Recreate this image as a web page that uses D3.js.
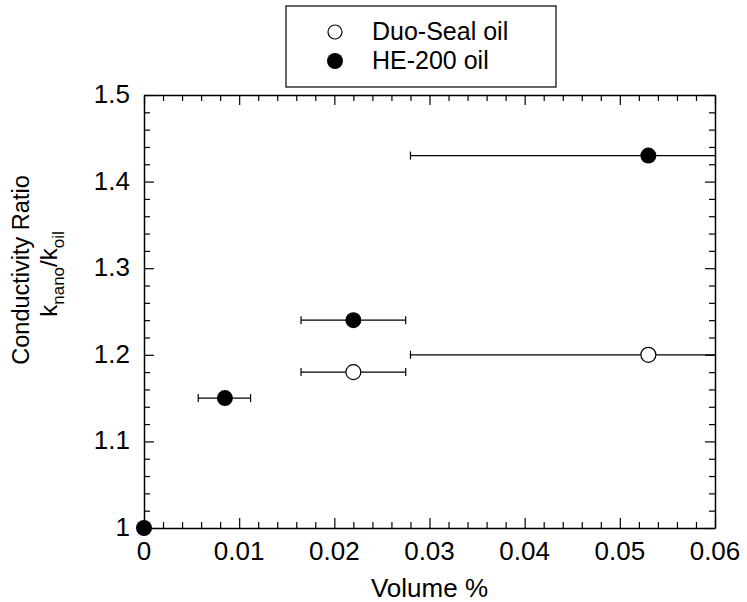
<!DOCTYPE html>
<html>
<head>
<meta charset="utf-8">
<script src="https://cdn.jsdelivr.net/npm/d3@7"></script>
<style>
  body { margin: 0; background: #fff; }
  text { font-family: "Liberation Sans", Arial, sans-serif; fill: #000; }
</style>
</head>
<body>
<svg id="svg"></svg>
<script>
const width = 747, height = 602;
const margin = { top: 95, right: 32, bottom: 74, left: 144 };

// Volume % and conductivity ratio, with x error ranges
const duoX = [0.022, 0.053];
const duoY = [1.18, 1.20];
const duoXLo = [0.0165, 0.028];
const duoXHi = [0.0275, 0.078];

const heX = [0, 0.0085, 0.022, 0.053];
const heY = [1.0, 1.15, 1.24, 1.43];
const heXLo = [null, 0.0057, 0.0165, 0.028];
const heXHi = [null, 0.0112, 0.0275, 0.078];

const xTicks = [0, 0.01, 0.02, 0.03, 0.04, 0.05, 0.06];
const yTicks = [1, 1.1, 1.2, 1.3, 1.4, 1.5];

const svg = d3.select("#svg").attr("width", width).attr("height", height);

const x = d3.scaleLinear().domain([0, 0.06]).range([margin.left, width - margin.right]);
const y = d3.scaleLinear().domain([1, 1.5]).range([height - margin.bottom, margin.top]);

const x0 = x.range()[0], x1 = x.range()[1];
const y0 = y.range()[0], y1 = y.range()[1];

// inward ticks on all four sides
const xMinor = d3.range(0, 0.0601, 0.002);
const yMinor = d3.range(1, 1.501, 0.02);
function isMajor(v, list) { return list.some(t => Math.abs(t - v) < 1e-9); }

svg.append("g").attr("transform", `translate(0,${y0})`)
  .call(d3.axisBottom(x).tickValues(xMinor).tickSizeInner(-6).tickSizeOuter(0).tickFormat(""))
  .call(g => g.selectAll(".tick line").attr("y2", d => isMajor(d, xTicks) ? -10 : -6));
svg.append("g").attr("transform", `translate(0,${y1})`)
  .call(d3.axisTop(x).tickValues(xMinor).tickSizeInner(-6).tickSizeOuter(0).tickFormat(""))
  .call(g => g.selectAll(".tick line").attr("y2", d => isMajor(d, xTicks) ? 10 : 6));
svg.append("g").attr("transform", `translate(${x0},0)`)
  .call(d3.axisLeft(y).tickValues(yMinor).tickSizeInner(-6).tickSizeOuter(0).tickFormat(""))
  .call(g => g.selectAll(".tick line").attr("x2", d => isMajor(d, yTicks) ? 10 : 6));
svg.append("g").attr("transform", `translate(${x1},0)`)
  .call(d3.axisRight(y).tickValues(yMinor).tickSizeInner(-6).tickSizeOuter(0).tickFormat(""))
  .call(g => g.selectAll(".tick line").attr("x2", d => isMajor(d, yTicks) ? -10 : -6));

svg.selectAll(".domain").attr("stroke", "#000").attr("stroke-width", 1.5);
svg.selectAll(".tick line").attr("stroke", "#000").attr("stroke-width", 1.2);

// tick labels
svg.append("g").selectAll("text").data(xTicks).join("text")
  .attr("x", d => x(d)).attr("y", y0 + 32)
  .attr("text-anchor", "middle").attr("font-size", 26)
  .text(d => d === 0 ? "0" : d3.format(".2f")(d));
svg.append("g").selectAll("text").data(yTicks).join("text")
  .attr("x", x0 - 14).attr("y", d => y(d) + 8)
  .attr("text-anchor", "end").attr("font-size", 26)
  .text(d => d === 1 ? "1" : d3.format(".1f")(d));

// axis titles
svg.append("text").attr("x", (x0 + x1) / 2).attr("y", 597)
  .attr("text-anchor", "middle").attr("font-size", 26).text("Volume %");

const yt = svg.append("g").attr("transform", "translate(29,270) rotate(-90)");
yt.append("text").attr("text-anchor", "middle").attr("font-size", 23.5).text("Conductivity Ratio");
const k = yt.append("text").attr("text-anchor", "middle").attr("x", -4).attr("y", 28).attr("font-size", 24);
k.append("tspan").text("k");
k.append("tspan").attr("font-size", 17).attr("dy", 7).text("nano");
k.append("tspan").attr("dy", -7).text("/k");
k.append("tspan").attr("font-size", 17).attr("dy", 7).text("oil");

// data
svg.append("clipPath").attr("id", "plot")
  .append("rect").attr("x", x0).attr("y", y1).attr("width", x1 - x0).attr("height", y0 - y1);

const duo = duoX.map((v, i) => ({ x: v, y: duoY[i], lo: duoXLo[i], hi: duoXHi[i] }));
const he = heX.map((v, i) => ({ x: v, y: heY[i], lo: heXLo[i], hi: heXHi[i] }));

function errorBars(data) {
  const g = svg.append("g").attr("clip-path", "url(#plot)")
    .selectAll("g").data(data.filter(d => d.lo != null)).join("g")
    .attr("stroke", "#000").attr("stroke-width", 1.2);
  g.append("line").attr("x1", d => x(d.lo)).attr("x2", d => x(d.hi))
    .attr("y1", d => y(d.y)).attr("y2", d => y(d.y));
  g.append("line").attr("x1", d => x(d.lo)).attr("x2", d => x(d.lo))
    .attr("y1", d => y(d.y) - 4).attr("y2", d => y(d.y) + 4);
  g.append("line").attr("x1", d => x(d.hi)).attr("x2", d => x(d.hi))
    .attr("y1", d => y(d.y) - 4).attr("y2", d => y(d.y) + 4);
}
errorBars(duo);
errorBars(he);

svg.append("g").selectAll("circle").data(duo).join("circle")
  .attr("cx", d => x(d.x)).attr("cy", d => y(d.y)).attr("r", 7.5)
  .attr("fill", "#fff").attr("stroke", "#000").attr("stroke-width", 1.2);
svg.append("g").selectAll("circle").data(he).join("circle")
  .attr("cx", d => x(d.x)).attr("cy", d => y(d.y)).attr("r", 8)
  .attr("fill", "#000");

// legend
const lg = svg.append("g");
lg.append("rect").attr("x", 286).attr("y", 6).attr("width", 270).attr("height", 81)
  .attr("fill", "#fff").attr("stroke", "#000").attr("stroke-width", 1.2);
lg.append("circle").attr("cx", 335).attr("cy", 32).attr("r", 7)
  .attr("fill", "#fff").attr("stroke", "#000").attr("stroke-width", 1.2);
lg.append("circle").attr("cx", 335).attr("cy", 61).attr("r", 8).attr("fill", "#000");
lg.append("text").attr("x", 372).attr("y", 40).attr("font-size", 25).text("Duo-Seal oil");
lg.append("text").attr("x", 372).attr("y", 69).attr("font-size", 25).text("HE-200 oil");
</script>
</body>
</html>
